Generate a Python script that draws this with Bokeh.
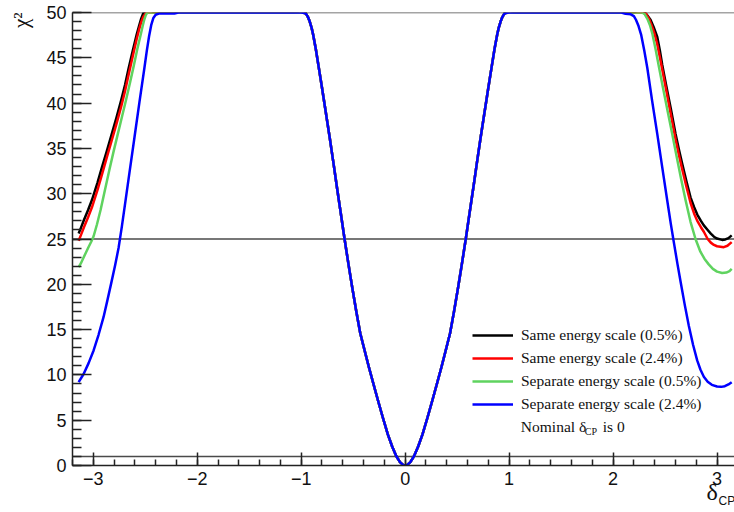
from bokeh.plotting import figure
from bokeh.models import (Range1d, Span, Label, Legend, LegendItem, Title,
                          SingleIntervalTicker)
from bokeh.embed import file_html
from bokeh.resources import INLINE

# ---------------- data ----------------
# shared central dip (all four fits coincide here)
delta_mid = [-1.08, -1.00, -0.97, -0.95, -0.935, -0.918, -0.90, -0.886, -0.86,
             -0.832, -0.80, -0.765, -0.726, -0.69, -0.655, -0.62, -0.583,
             -0.545, -0.51, -0.47, -0.432, -0.39, -0.35, -0.305, -0.262,
             -0.215, -0.166, -0.125, -0.086, -0.05, -0.02, 0.0,
             0.02, 0.05, 0.086, 0.125, 0.166, 0.215, 0.262, 0.305, 0.35,
             0.39, 0.432, 0.47, 0.51, 0.545, 0.583, 0.62, 0.655, 0.69, 0.726,
             0.765, 0.80, 0.832, 0.86, 0.886, 0.90, 0.918, 0.935, 0.95, 0.97,
             1.00, 1.08]
chi2_mid = [50.0, 50.0, 49.95, 49.8, 49.5, 49.0, 48.3, 47.6, 46.0,
            44.0, 41.7, 39.1, 36.2, 33.4, 30.6, 27.9, 25.0,
            22.2, 19.7, 17.0, 14.6, 12.7, 10.9, 9.0, 7.2,
            5.3, 3.4, 2.1, 1.05, 0.38, 0.07, 0.0,
            0.07, 0.38, 1.05, 2.1, 3.4, 5.3, 7.2, 9.0, 10.9,
            12.7, 14.6, 17.0, 19.7, 22.2, 25.0, 27.9, 30.6, 33.4, 36.2,
            39.1, 41.7, 44.0, 46.0, 47.6, 48.3, 49.0, 49.5, 49.8, 49.95,
            50.0, 50.0]

# Same energy scale (0.5%) -- only this fit shows the small overshoot at 50
delta_same05_left = [-3.141, -3.12, -3.09, -3.05, -3.013, -2.96, -2.917,
                     -2.87, -2.822, -2.777, -2.732, -2.695, -2.661, -2.62,
                     -2.582, -2.56, -2.54, -2.52, -2.50, -2.48, -2.463,
                     -2.44, -2.42, -2.40]
chi2_same05_left = [25.6, 26.2, 27.1, 28.2, 29.3, 31.2, 32.9,
                    34.7, 36.6, 38.4, 40.3, 42.0, 43.8, 45.8,
                    47.6, 48.5, 49.3, 49.9, 50.2, 50.35, 50.35,
                    50.2, 50.05, 50.0]
delta_same05_mid = [-1.08, -1.03, -1.00, -0.98, -0.965, -0.95, -0.935,
                    -0.918, -0.90, -0.886]
chi2_same05_mid = [50.0, 50.1, 50.3, 50.35, 50.15, 49.8, 49.5,
                   49.0, 48.3, 47.6]
delta_same05_mid_r = [0.886, 0.90, 0.918, 0.935, 0.95, 0.965, 0.98, 1.00,
                      1.03, 1.08]
chi2_same05_mid_r = [47.6, 48.3, 49.0, 49.5, 49.8, 50.15, 50.35, 50.3,
                     50.1, 50.0]
delta_same05_right = [2.20, 2.235, 2.265, 2.29, 2.31, 2.335, 2.36, 2.39,
                      2.425, 2.45, 2.473, 2.51, 2.555, 2.601, 2.635, 2.665,
                      2.705, 2.745, 2.78, 2.81, 2.845, 2.873, 2.91, 2.94,
                      2.97, 3.0, 3.049, 3.08, 3.11, 3.141]
chi2_same05_right = [50.0, 50.2, 50.35, 50.2, 49.95, 49.6, 49.2, 48.4,
                     47.3, 45.8, 44.2, 42.0, 39.4, 36.6, 34.8, 33.3,
                     31.4, 29.6, 28.5, 27.7, 27.0, 26.5, 26.0, 25.6,
                     25.25, 25.05, 24.9, 24.95, 25.1, 25.4]

# Same energy scale (2.4%)
delta_same24_left = [-3.141, -3.12, -3.09, -3.05, -3.013, -2.96, -2.917,
                     -2.87, -2.822, -2.777, -2.732, -2.695, -2.661, -2.62,
                     -2.582, -2.56, -2.54, -2.52, -2.50, -2.48]
chi2_same24_left = [24.8, 25.4, 26.3, 27.4, 28.5, 30.4, 32.1,
                    34.0, 35.9, 37.7, 39.6, 41.3, 43.1, 45.2,
                    47.1, 48.1, 48.9, 49.5, 49.85, 50.0]
delta_same24_right = [2.30, 2.32, 2.345, 2.37, 2.40, 2.425, 2.45, 2.473,
                      2.51, 2.555, 2.601, 2.635, 2.665, 2.705, 2.745, 2.78,
                      2.81, 2.845, 2.873, 2.91, 2.94, 2.97, 3.0, 3.065,
                      3.1, 3.141]
chi2_same24_right = [50.0, 49.8, 49.3, 48.6, 47.6, 46.5, 45.1, 43.7,
                     41.5, 38.8, 36.0, 34.2, 32.7, 30.8, 29.0, 27.8,
                     27.0, 26.3, 25.8, 25.0, 24.6, 24.35, 24.2, 24.1,
                     24.25, 24.65]

# Separate energy scale (0.5%)
delta_sep05_left = [-3.141, -3.12, -3.1, -3.075, -3.05, -3.02, -2.997,
                    -2.965, -2.93, -2.89, -2.844, -2.804, -2.764, -2.724,
                    -2.684, -2.648, -2.613, -2.578, -2.543, -2.525, -2.51,
                    -2.495, -2.48]
chi2_sep05_left = [21.9, 22.3, 22.8, 23.4, 24.0, 24.7, 25.3,
                   26.6, 28.2, 30.3, 32.7, 34.7, 36.6, 38.5,
                   40.4, 42.2, 44.0, 45.9, 47.6, 48.5, 49.2,
                   49.7, 50.0]
delta_sep05_right = [2.28, 2.305, 2.33, 2.355, 2.377, 2.41, 2.441, 2.48,
                     2.525, 2.569, 2.61, 2.655, 2.697, 2.745, 2.793, 2.84,
                     2.88, 2.92, 2.96, 3.0, 3.049, 3.09, 3.12, 3.141]
chi2_sep05_right = [50.0, 49.8, 49.3, 48.6, 47.7, 45.9, 44.0, 41.7,
                    39.1, 36.6, 34.2, 31.6, 29.3, 26.9, 25.0, 23.6,
                    22.8, 22.2, 21.7, 21.4, 21.25, 21.3, 21.45, 21.7]

# Separate energy scale (2.4%)
delta_sep24_left = [-3.141, -3.093, -3.045, -2.997, -2.95, -2.901, -2.865,
                    -2.828, -2.79, -2.757, -2.725, -2.694, -2.65, -2.604,
                    -2.556, -2.508, -2.485, -2.463, -2.443, -2.422, -2.40,
                    -2.37, -2.34, -2.22, -2.18]
chi2_sep24_left = [9.2, 10.1, 11.3, 12.7, 14.4, 16.4, 18.2,
                   20.1, 22.1, 24.0, 26.4, 28.9, 32.5, 36.2,
                   40.1, 43.9, 45.8, 47.4, 48.6, 49.4, 49.75,
                   49.88, 49.9, 49.9, 50.0]
delta_sep24_right = [2.08, 2.12, 2.17, 2.20, 2.22, 2.245, 2.271, 2.30,
                     2.329, 2.375, 2.425, 2.473, 2.521, 2.555, 2.585, 2.62,
                     2.649, 2.69, 2.729, 2.77, 2.809, 2.84, 2.873, 2.91,
                     2.95, 3.0, 3.04, 3.075, 3.11, 3.141]
chi2_sep24_right = [50.0, 49.85, 49.8, 49.6, 49.2, 48.5, 47.5, 45.8,
                    43.9, 40.3, 36.6, 32.9, 29.25, 26.7, 24.6, 22.2,
                    20.3, 17.7, 15.4, 13.3, 11.6, 10.6, 9.8, 9.25,
                    8.9, 8.72, 8.68, 8.75, 8.95, 9.2]

series_labels = ["Same energy scale (0.5%)", "Same energy scale (2.4%)",
                 "Separate energy scale (0.5%)", "Separate energy scale (2.4%)"]
series_colors = ["#000000", "#ff0000", "#5fd35f", "#0000ff"]

ref_levels = [1, 25, 50]
x_tick_values = [-3, -2, -1, 0, 1, 2, 3]
x_tick_labels = ["\u22123", "\u22122", "\u22121", "0", "1", "2", "3"]
x_title = "\u03b4"
x_title_sub = "CP"
y_title = "\u03c7\u00b2"
note_text = ["Nominal \u03b4", "CP", "is 0"]

# ---------------- figure ----------------
X0, X1, Y0, Y1 = -3.2, 3.168, 0.0, 50.0
W, H = 734, 512
L, R, T, B = 71, 0, 12, 47

p = figure(width=W, height=H, output_backend="svg", toolbar_location=None,
           x_range=Range1d(X0, X1), y_range=Range1d(Y0, Y1),
           min_border_left=L, min_border_right=R, min_border_top=T,
           min_border_bottom=B)
p.outline_line_color = None
p.grid.visible = False
p.background_fill_color = "white"
p.border_fill_color = "white"


def dx(px):
    return X0 + (px - L) * (X1 - X0) / (W - L - R)


def dy(py):
    return Y1 - (py - T) * (Y1 - Y0) / (H - T - B)


for lv in ref_levels:
    p.add_layout(Span(location=lv, dimension="width", line_color="#4a4a4a",
                      line_width=1.5, level="underlay"))

curves = [
    (delta_same05_left + delta_same05_mid + delta_mid[8:-8]
     + delta_same05_mid_r + delta_same05_right,
     chi2_same05_left + chi2_same05_mid + chi2_mid[8:-8]
     + chi2_same05_mid_r + chi2_same05_right),
    (delta_same24_left + delta_mid + delta_same24_right,
     chi2_same24_left + chi2_mid + chi2_same24_right),
    (delta_sep05_left + delta_mid + delta_sep05_right,
     chi2_sep05_left + chi2_mid + chi2_sep05_right),
    (delta_sep24_left + delta_mid + delta_sep24_right,
     chi2_sep24_left + chi2_mid + chi2_sep24_right),
]

renderers = []
for (xs, ys), c in zip(curves, series_colors):
    r = p.line(xs, ys, line_color=c, line_width=2.5, line_join="round")
    renderers.append(r)

legend = Legend(items=[LegendItem(label=lab, renderers=[r])
                       for lab, r in zip(series_labels, renderers)],
                location=(400, 51), glyph_width=41, glyph_height=20,
                label_height=20, label_standoff=8, spacing=3, padding=0,
                margin=0, border_line_color=None, background_fill_alpha=0,
                label_text_font="Liberation Serif",
                label_text_font_size="15.5px", label_text_color="#111111")
p.add_layout(legend)

# axes
for ax in (p.xaxis[0], p.yaxis[0]):
    ax.major_tick_out = 0
    ax.minor_tick_out = 0
    ax.axis_line_color = "#222222"
    ax.axis_line_width = 1.5
    ax.major_tick_line_color = "#222222"
    ax.major_tick_line_width = 1.5
    ax.minor_tick_line_color = "#222222"
    ax.minor_tick_line_width = 1.5
    ax.major_label_text_font = "Liberation Sans"
    ax.major_label_text_font_size = "18px"
    ax.major_label_text_color = "#111111"
    ax.major_label_standoff = 6

p.xaxis.ticker = SingleIntervalTicker(interval=1, num_minor_ticks=5)
p.yaxis.ticker = SingleIntervalTicker(interval=5, num_minor_ticks=5)
p.xaxis.major_label_overrides = dict(zip(x_tick_values, x_tick_labels))
p.xaxis.major_tick_in = 13
p.xaxis.minor_tick_in = 6
p.yaxis.major_tick_in = 19
p.yaxis.minor_tick_in = 9

# axis titles live in the side panels (not clipped by the frame)
p.add_layout(Title(text=y_title, align="right", vertical_align="top",
                   offset=0, standoff=17, text_font="Liberation Serif",
                   text_font_size="21px", text_font_style="normal",
                   text_color="#111111"), "left")
p.add_layout(Title(text=x_title, align="left", vertical_align="top",
                   offset=634, standoff=-18, text_font="Liberation Serif",
                   text_font_size="24px", text_font_style="normal",
                   text_color="#111111"), "below")
p.add_layout(Title(text=x_title_sub, align="left", vertical_align="top",
                   offset=646, standoff=-8, text_font="Liberation Sans",
                   text_font_size="12px", text_font_style="normal",
                   text_color="#111111"), "below")

# note line of the legend
p.add_layout(Label(x=dx(520), y=dy(426), text=note_text[0], text_align="left",
                   text_baseline="middle", text_font="Liberation Serif",
                   text_font_size="15.5px", text_color="#111111"))
p.add_layout(Label(x=dx(584), y=dy(431), text=note_text[1], text_align="left",
                   text_baseline="middle", text_font="Liberation Serif",
                   text_font_size="10px", text_color="#111111"))
p.add_layout(Label(x=dx(602), y=dy(426), text=note_text[2], text_align="left",
                   text_baseline="middle", text_font="Liberation Serif",
                   text_font_size="15.5px", text_color="#111111"))

open("out.html", "w").write(file_html(p, INLINE))
